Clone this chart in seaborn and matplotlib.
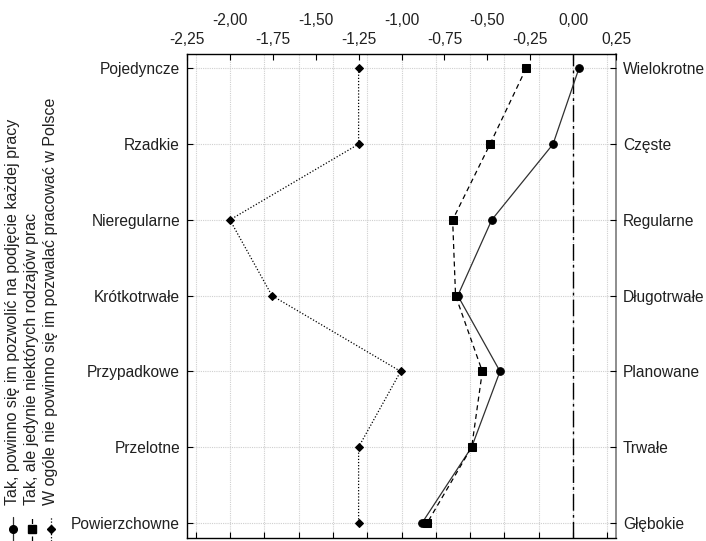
import matplotlib
matplotlib.use("Agg")
import matplotlib.pyplot as plt
from matplotlib.lines import Line2D
import numpy as np
import pandas as pd
import seaborn as sns

left_labels = ["Pojedyncze", "Rzadkie", "Nieregularne", "Krótkotrwałe",
               "Przypadkowe", "Przelotne", "Powierzchowne"]
right_labels = ["Wielokrotne", "Częste", "Regularne", "Długotrwałe",
                "Planowane", "Trwałe", "Głębokie"]
series_names = ["Tak, powinno się im pozwolić na podjęcie każdej pracy",
                "Tak, ale jedynie niektórych rodzajów prac",
                "W ogóle nie powinno się im pozwalać pracować w Polsce"]
s1 = [0.034, -0.117, -0.474, -0.672, -0.426, -0.591, -0.88]
s2 = [-0.274, -0.484, -0.702, -0.685, -0.529, -0.591, -0.85]
s3 = [-1.25, -1.25, -2.0, -1.755, -1.005, -1.25, -1.25]
top_ticks = [-2.25, -2.0, -1.75, -1.5, -1.25, -1.0, -0.75, -0.5, -0.25, 0.0, 0.25]

sns.set_theme(style="white")
plt.rcParams['font.family'] = ['Liberation Sans', 'DejaVu Sans']

FS = 11.2
W, H = 706, 541
fig = plt.figure(figsize=(W / 100, H / 100), dpi=100)
ax = fig.add_axes([187 / W, 1 - 538 / H, (616 - 187) / W, (538 - 54) / H])

pos = np.arange(len(left_labels))
df = pd.DataFrame({
    "pos": np.tile(pos, 3),
    "val": s1 + s2 + s3,
    "series": np.repeat(series_names, len(pos)),
})

styles = [
    dict(color="#303030", linestyle="-", marker="o", ms=5.5),
    dict(color="black", linestyle=(0, (4, 3)), marker="s", ms=5.5),
    dict(color="black", linestyle=(0, (1, 1.5)), marker="D", ms=4.2),
]
for name, st in zip(series_names, styles):
    sub = df[df["series"] == name]
    sns.lineplot(data=sub, x="val", y="pos", sort=False, estimator=None, ax=ax,
                 color=st["color"], linestyle=st["linestyle"], linewidth=0.9,
                 marker=st["marker"], markersize=st["ms"], markeredgecolor="black",
                 markerfacecolor="black", legend=False, zorder=3)

ax.axvline(0.0, color="black", linestyle=(0, (12, 3, 2, 3)), linewidth=1.0, zorder=2)

ax.set_xlim(-2.25, 0.25)
ax.set_ylim(6.2, -0.19)
ax.set_xlabel("")
ax.set_ylabel("")

ax.set_xticks(np.round(np.arange(-2.2, 0.21, 0.2), 2))
ax.set_xticklabels([])
ax.set_yticks(pos)
ax.set_yticklabels(left_labels, fontsize=FS, color="#202020")
ax.grid(True, color="#cfcfcf", linestyle=(0, (1, 1)), linewidth=0.8)
ax.set_axisbelow(True)
ax.tick_params(axis="x", direction="in", length=4, bottom=True, top=False,
               color="black", width=0.8)
ax.tick_params(axis="y", direction="in", length=4, left=True, pad=5,
               color="black", width=0.8)
for side in ["left", "bottom", "top"]:
    ax.spines[side].set_color("black")
    ax.spines[side].set_linewidth(1.0)
ax.spines["right"].set_color("#808080")

axr = ax.twinx()
axr.set_ylim(ax.get_ylim())
axr.set_yticks(pos)
axr.set_yticklabels(right_labels, fontsize=FS, color="#202020")
axr.tick_params(axis="y", direction="in", length=4, right=True, pad=5,
                color="black", width=0.8)
axr.grid(False)
for s in axr.spines.values():
    s.set_visible(False)

axt = ax.twiny()
axt.set_xlim(ax.get_xlim())
axt.set_xticks(top_ticks)
labs = []
for i, t in enumerate(top_ticks):
    s = f"{t:.2f}".replace(".", ",")
    if s == "-0,00":
        s = "0,00"
    labs.append(s + "\n" if i % 2 == 1 else s)
axt.set_xticklabels(labs, fontsize=FS, linespacing=1.35, color="#202020")
axt.tick_params(axis="x", direction="in", length=4, top=True, pad=5,
                color="black", width=0.8)
axt.grid(False)
for s in axt.spines.values():
    s.set_visible(False)

xs = [13, 32, 51]
for name, st, x in zip(series_names, styles, xs):
    fx = x / W
    fig.add_artist(Line2D([fx, fx], [1 - 541 / H, 1 - 517 / H], transform=fig.transFigure,
                          color=st["color"], linestyle=st["linestyle"], linewidth=0.9))
    fig.add_artist(Line2D([fx], [1 - 529 / H], transform=fig.transFigure,
                          marker=st["marker"], markersize=st["ms"], color="black",
                          linestyle="none"))
    fig.text(fx, 1 - 505 / H, name, rotation=90, ha="center", va="bottom",
             fontsize=FS + 0.3, color="#202020")

fig.savefig("out.png", dpi=100)
